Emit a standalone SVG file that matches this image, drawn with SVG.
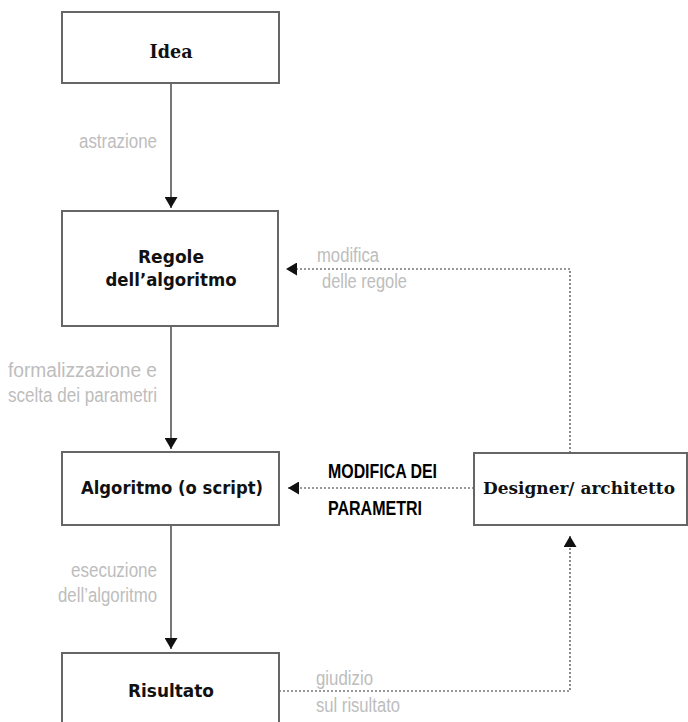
<svg xmlns="http://www.w3.org/2000/svg" width="688" height="722" viewBox="0 0 688 722">
<style>
.box{fill:#fff;stroke:#666;stroke-width:2}
.t{font-family:"DejaVu Sans",sans-serif;font-weight:bold;font-size:18.5px;fill:#111;text-anchor:middle}
.ts{font-family:"DejaVu Serif",serif;font-weight:bold;font-size:19px;fill:#111;text-anchor:middle}
.ts2{font-family:"DejaVu Serif",serif;font-weight:bold;font-size:17px;fill:#111;text-anchor:middle}
.lbl{font-family:"Liberation Sans",sans-serif;font-size:19.5px;fill:#bdbdbd}
.cap{font-family:"Liberation Sans",sans-serif;font-weight:bold;font-size:20px;fill:#000}
.solid{fill:none;stroke:#555;stroke-width:1.6}
.dot{fill:none;stroke:#777;stroke-width:1.7;stroke-dasharray:2 2}
</style>
<defs>
<marker id="ah" viewBox="0 0 11 13" markerWidth="11" markerHeight="13" refX="11" refY="6.5" orient="auto" markerUnits="userSpaceOnUse">
<path d="M0,0 L11,6.5 L0,13 z" fill="#111"/>
</marker>
</defs>
<g id="connectors">
<line class="solid" x1="171" y1="83" x2="171" y2="208" marker-end="url(#ah)"/>
<line class="solid" x1="171" y1="326" x2="171" y2="449" marker-end="url(#ah)"/>
<line class="solid" x1="171" y1="525" x2="171" y2="649" marker-end="url(#ah)"/>
<path class="dot" d="M570,453 V269 H286" marker-end="url(#ah)"/>
<path class="dot" d="M474,488 H288" marker-end="url(#ah)"/>
<path class="dot" d="M279,691 H570 V536" marker-end="url(#ah)"/>
<text class="lbl" x="79" y="148" textLength="78" lengthAdjust="spacingAndGlyphs">astrazione</text>
<text class="lbl" x="8" y="377" textLength="149" lengthAdjust="spacingAndGlyphs">formalizzazione e</text>
<text class="lbl" x="8" y="402" textLength="149" lengthAdjust="spacingAndGlyphs">scelta dei parametri</text>
<text class="lbl" x="71" y="577" textLength="86" lengthAdjust="spacingAndGlyphs">esecuzione</text>
<text class="lbl" x="58" y="602" textLength="99" lengthAdjust="spacingAndGlyphs">dell’algoritmo</text>
<text class="lbl" x="317" y="262" textLength="62" lengthAdjust="spacingAndGlyphs">modifica</text>
<text class="lbl" x="322" y="288" textLength="85" lengthAdjust="spacingAndGlyphs">delle regole</text>
<text class="lbl" x="316" y="685" textLength="57" lengthAdjust="spacingAndGlyphs">giudizio</text>
<text class="lbl" x="316" y="712" textLength="84" lengthAdjust="spacingAndGlyphs">sul risultato</text>
<text class="cap" x="328" y="478" textLength="109" lengthAdjust="spacingAndGlyphs">MODIFICA DEI</text>
<text class="cap" x="328" y="515" textLength="94" lengthAdjust="spacingAndGlyphs">PARAMETRI</text>
</g>
<g id="idea">
<rect class="box" x="62" y="12" width="217" height="71"/>
<text class="ts" x="171" y="58" textLength="43" lengthAdjust="spacingAndGlyphs">Idea</text>
</g>
<g id="regole">
<rect class="box" x="62" y="211" width="216" height="115"/>
<text class="t" x="171" y="263" textLength="66" lengthAdjust="spacingAndGlyphs">Regole</text>
<text class="t" x="171" y="286" textLength="131" lengthAdjust="spacingAndGlyphs">dell’algoritmo</text>
</g>
<g id="algoritmo">
<rect class="box" x="62" y="452" width="217" height="73"/>
<text class="t" x="172" y="494" textLength="182" lengthAdjust="spacingAndGlyphs">Algoritmo (o script)</text>
</g>
<g id="designer">
<rect class="box" x="474" y="453" width="213" height="72"/>
<text class="ts2" x="579" y="494" textLength="192" lengthAdjust="spacingAndGlyphs">Designer/ architetto</text>
</g>
<g id="risultato">
<rect class="box" x="62" y="653" width="217" height="90"/>
<text class="t" x="171" y="697" textLength="86" lengthAdjust="spacingAndGlyphs">Risultato</text>
</g>
</svg>
